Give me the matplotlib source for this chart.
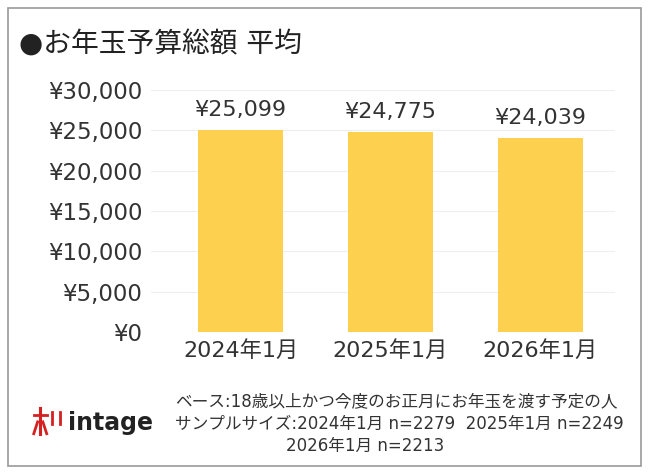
import matplotlib.pyplot as plt
from matplotlib.patches import Rectangle
from matplotlib.lines import Line2D

plt.rcParams['font.family'] = ['DejaVu Sans', 'Noto Sans CJK JP']

categories = ['2024年1月', '2025年1月', '2026年1月']
values = [25099, 24775, 24039]
yticks = [0, 5000, 10000, 15000, 20000, 25000, 30000]

fig = plt.figure(figsize=(6.49, 4.74), dpi=100)
fig.patches.append(Rectangle((0.012, 0.017), 0.976, 0.966, transform=fig.transFigure,
                             fill=False, edgecolor='#999999', linewidth=1.2))

ax = fig.add_axes([0.232, 0.300, 0.716, 0.510])
ax.bar(range(3), values, width=0.57, color='#FDD14F', zorder=2)
for i, v in enumerate(values):
    ax.text(i, v + 1200, f'¥{v:,}', ha='center', va='bottom', fontsize=16, color='#333333')
ax.set_xlim(-0.6, 2.5)
ax.set_ylim(0, 30000)
ax.set_yticks(yticks)
ax.set_yticklabels([f'¥{t:,}' for t in yticks], fontsize=16.5, color='#333333')
ax.set_xticks(range(3))
ax.set_xticklabels(categories, fontsize=16, color='#333333')
ax.grid(axis='y', color='#eeeeee', linewidth=0.8, zorder=0)
for s in ax.spines.values():
    s.set_visible(False)
ax.tick_params(length=0, pad=6)

fig.text(0.03, 0.905, '●お年玉予算総額 平均', fontsize=20, color='#222222', va='center')

# logo
fig.text(0.105, 0.108, 'intage', fontsize=17, color='#222222', va='center', fontweight='bold')
fig.add_artist(Line2D([0.062, 0.062], [0.085, 0.14], color='#d42020', lw=2.2))
fig.add_artist(Line2D([0.052, 0.072], [0.125, 0.125], color='#d42020', lw=2))
fig.add_artist(Line2D([0.052, 0.058], [0.085, 0.11], color='#d42020', lw=2))
fig.add_artist(Line2D([0.072, 0.066], [0.085, 0.11], color='#d42020', lw=2))
fig.add_artist(Line2D([0.08, 0.08], [0.105, 0.13], color='#d42020', lw=2))
fig.add_artist(Line2D([0.092, 0.092], [0.105, 0.13], color='#d42020', lw=2))

note_color = '#333333'
fig.text(0.27, 0.153, 'ベース:18歳以上かつ今度のお正月にお年玉を渡す予定の人', fontsize=12, color=note_color, va='center')
fig.text(0.27, 0.105, 'サンプルサイズ:2024年1月 n=2279  2025年1月 n=2249', fontsize=12, color=note_color, va='center')
fig.text(0.44, 0.060, '2026年1月 n=2213', fontsize=12, color=note_color, va='center')

fig.savefig('out.png', dpi=100)
